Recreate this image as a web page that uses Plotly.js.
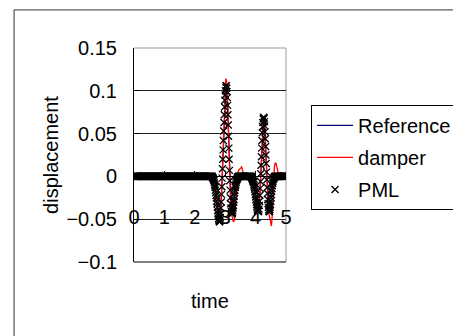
<!DOCTYPE html>
<html>
<head>
<meta charset="utf-8">
<script src="https://cdn.plot.ly/plotly-3.0.1.min.js"></script>
<style>
  html, body { margin: 0; padding: 0; background: #fff; }
  #chart { width: 453px; height: 336px; }
</style>
</head>
<body>
<div id="chart"></div>
<script>
// ---- data ----
const seriesNames = ["Reference", "damper", "PML"];
const timeStart = 0;        // first sample time
const lineTimeStep = 0.02;  // sample spacing of the two line series
const pmlTimeStep = 0.01;   // sample spacing of the PML marker series

const referenceDisplacement = [
0,0,0,0,0,0,0,0,0,0, 0,0,0,0,0,0,0,0,0,0, 0,0,0,0,0,0,0,0,0,0, 0,0,0,0,0,0,0,0,0,0,
0,0,0,0,0,0,0,0,0,0, 0,0,0,0,0,0,0,0,0,0, 0,0,0,0,0,0,0,0,0,0, 0,0,0,0,0,0,0,0,0,0,
0,0,0,0,0,0,0,0,0,0, 0,0,0,0,0,0,0,0,0,0, 0,0,0,0,0,0,0,0,0,0, 0,0,0,0,0,0,0,0,0,0,
0,0,0,0,0,0,0,0,0,
-0.001,-0.002,-0.004,-0.007,-0.011,-0.016,-0.022,-0.029,-0.036,-0.043,-0.049,-0.052,-0.053,
-0.048,-0.037,-0.021,-0.002,0.020,0.042,0.063,0.081,0.095,0.104,0.106,
0.099,0.083,0.060,0.033,0.007,-0.016,-0.032,-0.041,-0.044,-0.042,-0.037,-0.030,-0.023,-0.016,-0.011,-0.007,-0.004,-0.002,-0.001,
0,0,0,0,0,0,0,0,0,0, 0,0,0,0,0,0,0,0,0,0, 0,
-0.001,-0.002,-0.004,-0.006,-0.009,-0.013,-0.018,-0.024,-0.030,-0.035,-0.039,-0.041,-0.040,-0.034,-0.022,-0.006,
0.013,0.033,0.051,0.063,0.069,0.068,0.059,0.044,0.025,0.005,
-0.013,-0.027,-0.036,-0.041,-0.041,-0.036,-0.029,-0.021,-0.014,-0.008,-0.004,-0.002,-0.001,
0,0,0,0,0,0,0,0,0,0, 0,0,0,0,0,0,0,0,0
];

const damperDisplacement = [
0,0,0,0,0,0,0,0,0,0, 0,0,0,0,0,0,0,0,0,0, 0,0,0,0,0,0,0,0,0,0, 0,0,0,0,0,0,0,0,0,0,
0,0,0,0,0,0,0,0,0,0, 0,0,0,0,0,0,0,0,0,0, 0,0,0,0,0,0,0,0,0,0, 0,0,0,0,0,0,0,0,0,0,
0,0,0,0,0,0,0,0,0,0, 0,0,0,0,0,0,0,0,0,0, 0,0,0,0,0,0,0,0,0,0, 0,0,0,0,0,0,0,0,0,0,
0,0,0,0,0,0,0,0,0,
-0.001,-0.002,-0.004,-0.007,-0.011,-0.016,-0.022,-0.029,-0.036,-0.043,-0.049,-0.052,-0.053,
-0.047,-0.035,-0.018,0.003,0.026,0.050,0.072,0.091,0.106,0.114,0.113,
0.103,0.085,0.060,0.032,0.004,-0.018,-0.033,-0.042,-0.047,-0.050,-0.052,-0.053,-0.051,-0.044,-0.033,-0.020,-0.008,
0.000,0.005,0.007,0.008,0.009,0.010,0.011,0.011,0.009,0.005,0.002,0.000,
0,0,0,0,0,0,0,0,0,0, 0,
-0.001,-0.002,-0.004,-0.006,-0.009,-0.013,-0.018,-0.024,-0.030,-0.035,-0.039,-0.041,-0.040,-0.034,-0.022,-0.006,
0.013,0.033,0.051,0.063,0.069,0.068,0.059,0.044,0.025,0.005,
-0.014,-0.028,-0.038,-0.044,-0.048,-0.052,-0.056,-0.058,-0.050,-0.030,-0.008,
0.006,0.012,0.015,0.016,0.014,0.010,0.005,0.002,0.001,0.003,0.005,0.005,0.003,0.001,0.000,0.001,0.003,0.004,0.003,0.002,0.001
];

const pmlDisplacement = [
0,0,0,0,0,0,0,0,0,0, 0,0,0,0,0,0,0,0,0,0, 0,0,0,0,0,0,0,0,0,0, 0,0,0,0,0,0,0,0,0,0, 0,0,0,0,0,0,0,0,0,0,
0,0,0,0,0,0,0,0,0,0, 0,0,0,0,0,0,0,0,0,0, 0,0,0,0,0,0,0,0,0,0, 0,0,0,0,0,0,0,0,0,0, 0,0,0,0,0,0,0,0,0,0,
0,0,0,0,0,0,0,0,0,0, 0,0,0,0,0,0,0,0,0,0, 0,0,0,0,0,0,0,0,0,0, 0,0,0,0,0,0,0,0,0,0, 0,0,0,0,0,0,0,0,0,0,
0,0,0,0,0,0,0,0,0,0, 0,0,0,0,0,0,0,0,0,0, 0,0,0,0,0,0,0,0,0,0, 0,0,0,0,0,0,0,0,0,0, 0,0,0,0,0,0,0,0,0,0,
0,0,0,0,0,0,0,0,0,0, 0,0,0,0,0,0,0,0,0,0, 0,0,0,0,0,0,0,0,0,0, 0,0,0,0,0,0,0,0,0,0, 0,0,0,0,0,0,0,0,0,0,
0,0,0,0,0,0,0,0,
-0.001,-0.001,-0.002,-0.003,-0.004,-0.005,-0.007,-0.009,-0.011,-0.013,
-0.016,-0.019,-0.022,-0.025,-0.029,-0.032,-0.036,-0.040,-0.043,-0.046,
-0.049,-0.051,-0.052,-0.053,-0.053,-0.051,-0.048,-0.043,-0.037,-0.030,
-0.021,-0.012,-0.002,0.009,0.020,0.031,0.042,0.053,0.063,0.072,
0.081,0.089,0.095,0.100,0.104,0.106,0.106,0.103,0.099,0.092,
0.083,0.072,0.060,0.047,0.033,0.020,0.007,-0.005,-0.016,-0.025,
-0.032,-0.037,-0.041,-0.043,-0.044,-0.043,-0.042,-0.040,-0.037,-0.034,
-0.030,-0.027,-0.023,-0.019,-0.016,-0.013,-0.011,-0.009,-0.007,-0.005,
-0.004,-0.003,-0.002,-0.001,-0.001,
0,0,0,0,0,0,0,0,0,0, 0,0,0,0,0,0,0,0,0,0, 0,0,0,0,0,0,0,0,0,0, 0,0,0,0,0,0,0,0,0,0, 0,0,0,
-0.001,-0.001,-0.002,-0.003,-0.004,-0.005,-0.006,-0.007,-0.009,-0.011,
-0.013,-0.015,-0.018,-0.021,-0.024,-0.027,-0.030,-0.033,-0.035,-0.037,
-0.039,-0.040,-0.041,-0.041,-0.040,-0.038,-0.034,-0.029,-0.022,-0.014,
-0.006,0.003,0.013,0.023,0.033,0.042,0.051,0.058,0.063,0.067,
0.069,0.069,0.068,0.064,0.059,0.052,0.044,0.035,0.025,0.015,
0.005,-0.004,-0.013,-0.020,-0.027,-0.032,-0.036,-0.039,-0.041,-0.041,
-0.041,-0.039,-0.036,-0.033,-0.029,-0.025,-0.021,-0.017,-0.014,-0.011,
-0.008,-0.006,-0.004,-0.003,-0.002,-0.001,-0.001,
0,0,0,0,0,0,0,0,0,0, 0,0,0,0,0,0,0,0,0,0, 0,0,0,0,0,0,0,0,0,0, 0,0,0,0,0,0,0,0
];

const xTickValues = [0, 1, 2, 3, 4, 5];
const yTickValues = [-0.1, -0.05, 0, 0.05, 0.1, 0.15];
const yTickLabels = ["\u22120.1", "\u22120.05", "0", "0.05", "0.1", "0.15"];
const xTitle = "time";
const yTitle = "displacement";

// ---- chart ----
const FONT = "'Liberation Sans', Arial, sans-serif";
const FS = 20;

const traces = [
  { name: seriesNames[0], type: "scatter", mode: "lines", x0: timeStart, dx: lineTimeStep,
    y: referenceDisplacement, line: { color: "#000080", width: 1.2 }, legendgroup: "a" },
  { name: seriesNames[1], type: "scatter", mode: "lines", x0: timeStart, dx: lineTimeStep,
    y: damperDisplacement, line: { color: "#ff0000", width: 1.3 }, legendgroup: "b" },
  { name: seriesNames[2], type: "scatter", mode: "markers", x0: timeStart, dx: pmlTimeStep,
    y: pmlDisplacement, legendgroup: "c",
    marker: { symbol: "x-thin-open", size: 7, color: "#000", line: { color: "#000", width: 1.3 } } }
];

const layout = {
  width: 453, height: 336,
  margin: { l: 134, r: 167, t: 48, b: 74, pad: 0, autoexpand: false },
  paper_bgcolor: "#fff", plot_bgcolor: "#fff",
  font: { family: FONT, size: FS, color: "#000" },
  showlegend: true,
  legend: {
    x: 1.165, y: 0.734, xanchor: "left", yanchor: "top",
    bordercolor: "#000", borderwidth: 1, bgcolor: "#fff",
    font: { family: FONT, size: FS, color: "#000" },
    traceorder: "grouped", tracegroupgap: 3, itemwidth: 36
  },
  xaxis: {
    range: [0, 5], tickvals: xTickValues, ticktext: xTickValues.map(String),
    anchor: "free", position: 0.4, automargin: false,
    showline: true, linecolor: "#000", linewidth: 1,
    ticks: "inside", ticklen: 5, tickcolor: "#000",
    ticklabelstandoff: 23,
    showgrid: false, zeroline: false,
    tickfont: { family: FONT, size: FS }
  },
  yaxis: {
    range: [-0.1, 0.15], tickvals: yTickValues, ticktext: yTickLabels, automargin: false,
    showline: true, linecolor: "#000", linewidth: 1,
    ticks: "inside", ticklen: 6, tickcolor: "#000",
    ticklabelstandoff: 12,
    showgrid: true, gridcolor: "#222", gridwidth: 1, zeroline: false,
    tickfont: { family: FONT, size: FS },
    title: { text: yTitle, font: { family: FONT, size: FS }, standoff: 2 }
  },
  annotations: [
    { xref: "paper", yref: "paper", x: 0.5, y: -0.182, xanchor: "center", yanchor: "middle",
      text: xTitle, showarrow: false, font: { family: FONT, size: FS } }
  ],
  shapes: [
    // plot-area frame: top & right grey, bottom black
    { type: "line", xref: "paper", yref: "paper", x0: 0, x1: 1, y0: 1, y1: 1, line: { color: "#999", width: 1 }, layer: "below" },
    { type: "line", xref: "paper", yref: "paper", x0: 1, x1: 1, y0: 0, y1: 1, line: { color: "#999", width: 1 }, layer: "below" },
    { type: "line", xref: "paper", yref: "paper", x0: 0, x1: 1, y0: 0, y1: 0, line: { color: "#000", width: 1 }, layer: "below" },
    // outer chart-area border (left & top edges)
    { type: "line", xref: "paper", yref: "paper", x0: -0.789, x1: -0.789, y0: -0.5, y1: 1.178, line: { color: "#333", width: 1 } },
    { type: "line", xref: "paper", yref: "paper", x0: -0.789, x1: 2.2, y0: 1.178, y1: 1.178, line: { color: "#333", width: 1 } }
  ]
};

Plotly.newPlot("chart", traces, layout, { staticPlot: true, displayModeBar: false });
</script>
</body>
</html>
